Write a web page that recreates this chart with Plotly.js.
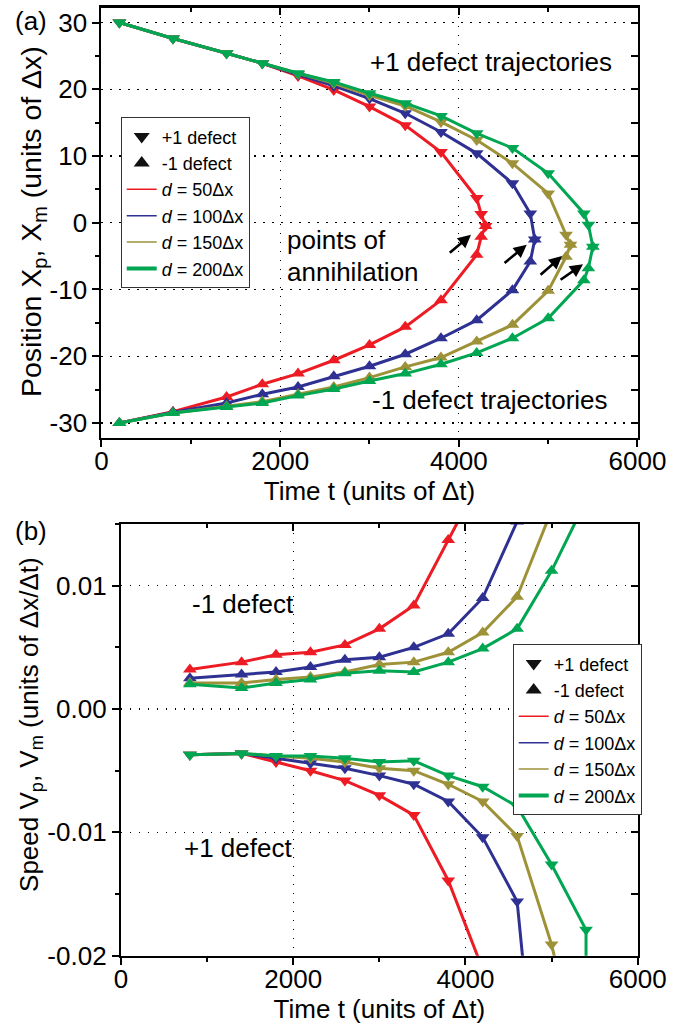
<!DOCTYPE html>
<html><head><meta charset="utf-8">
<script src="https://cdn.plot.ly/plotly-3.0.1.min.js"></script>
<style>html,body{margin:0;padding:0;background:#fff}#chart{width:695px;height:1036px}</style>
</head><body><div id="chart"></div>
<script>
// ---------- Data: panel (a) positions ----------
const seriesLabels = ['<i>d</i> = 50Δx', '<i>d</i> = 100Δx', '<i>d</i> = 150Δx', '<i>d</i> = 200Δx'];
const defectLabels = ['+1 defect', '-1 defect'];

const posTime50  = [200, 800, 1400, 1800, 2200, 2600, 3000, 3400, 3800, 4200, 4250, 4300];
const posPlus50  = [30, 27.6, 25.4, 23.9, 22.0, 19.9, 17.4, 14.6, 10.6, 3.7, 1.3, -0.5];
const posMinus50 = [-30, -28.3, -26.1, -24.2, -22.6, -20.6, -18.3, -15.6, -11.6, -4.8, -2.1, -0.5];

const posTime100  = [200, 800, 1400, 1800, 2200, 2600, 3000, 3400, 3800, 4200, 4600, 4800, 4850];
const posPlus100  = [30, 27.6, 25.4, 23.9, 22.2, 20.5, 18.6, 16.4, 13.6, 10.4, 5.9, 1.4, -2.5];
const posMinus100 = [-30, -28.4, -27.0, -25.7, -24.6, -23.0, -21.5, -19.7, -17.3, -14.6, -10.1, -5.8, -2.5];

const posTime150  = [200, 800, 1400, 1800, 2200, 2600, 3000, 3400, 3800, 4200, 4600, 5000, 5200, 5250];
const posPlus150  = [30, 27.6, 25.4, 23.9, 22.3, 20.9, 19.1, 17.5, 15.1, 12.4, 8.9, 4.4, -1.8, -3.3];
const posMinus150 = [-30, -28.5, -27.5, -26.8, -25.7, -24.6, -23.2, -21.6, -20.2, -17.8, -15.3, -10.2, -5.1, -3.3];

const posTime200  = [200, 800, 1400, 1800, 2200, 2600, 3000, 3400, 3800, 4200, 4600, 5000, 5400, 5450, 5500];
const posPlus200  = [30, 27.6, 25.4, 23.9, 22.4, 21.1, 19.4, 17.9, 16.0, 13.4, 11.2, 7.4, 1.4, -0.3, -3.6];
const posMinus200 = [-30, -28.5, -27.6, -27.0, -25.9, -24.9, -23.7, -22.6, -21.2, -19.5, -17.3, -14.3, -8.6, -6.8, -3.6];

// ---------- Data: panel (b) speeds ----------
const spdTimeMinus50  = [800, 1400, 1800, 2200, 2600, 3000, 3400, 3800, 4200];
const spdMinus50      = [0.0032, 0.0038, 0.0044, 0.0046, 0.0052, 0.0065, 0.0084, 0.0137, 0.0190];
const spdTimeMinus100 = [800, 1400, 1800, 2200, 2600, 3000, 3400, 3800, 4200, 4600];
const spdMinus100     = [0.0025, 0.0028, 0.0030, 0.0034, 0.0040, 0.0042, 0.0050, 0.0061, 0.0090, 0.0152];
const spdTimeMinus150 = [800, 1400, 1800, 2200, 2600, 3000, 3400, 3800, 4200, 4600, 5000];
const spdMinus150     = [0.0021, 0.0021, 0.0024, 0.0026, 0.0030, 0.0036, 0.0038, 0.0046, 0.0062, 0.0091, 0.0161];
const spdTimeMinus200 = [800, 1400, 1800, 2200, 2600, 3000, 3400, 3800, 4200, 4600, 5000, 5400];
const spdMinus200     = [0.0020, 0.0017, 0.0021, 0.0024, 0.0029, 0.0031, 0.0030, 0.0038, 0.0049, 0.0065, 0.0112, 0.0169];

const spdTimePlus50  = [800, 1400, 1800, 2200, 2600, 3000, 3400, 3800, 4200];
const spdPlus50      = [-0.0037, -0.0036, -0.0043, -0.0050, -0.0058, -0.0070, -0.0086, -0.0139, -0.0211];
const spdTimePlus100 = [800, 1400, 1800, 2200, 2600, 3000, 3400, 3800, 4200, 4600, 4700];
const spdPlus100     = [-0.0037, -0.0036, -0.0040, -0.0044, -0.0048, -0.0054, -0.0061, -0.0075, -0.0104, -0.0156, -0.0227];
const spdTimePlus150 = [800, 1400, 1800, 2200, 2600, 3000, 3400, 3800, 4200, 4600, 5000, 5200];
const spdPlus150     = [-0.0037, -0.0036, -0.0038, -0.0040, -0.0043, -0.0048, -0.0050, -0.0061, -0.0075, -0.0103, -0.0191, -0.0250];
const spdTimePlus200 = [800, 1400, 1800, 2200, 2600, 3000, 3400, 3800, 4200, 4600, 5000, 5400, 5400];
const spdPlus200     = [-0.0037, -0.0036, -0.0038, -0.0038, -0.0040, -0.0043, -0.0042, -0.0054, -0.0063, -0.0079, -0.0126, -0.0179, -0.0300];

// ---------- Tick labels ----------
const xTickVals = [0, 2000, 4000, 6000];
const xTickText = ['0', '2000', '4000', '6000'];
const posTickVals = [-30, -20, -10, 0, 10, 20, 30];
const posTickText = ['-30', '-20', '-10', '0', '10', '20', '30'];
const spdTickVals = [-0.02, -0.01, 0, 0.01];
const spdTickText = ['-0.02', '-0.01', '0.00', '0.01'];

// ---------- Styles ----------
const colors = ['#ED1C24', '#2E3192', '#9E9239', '#00A651'];
const legendWidths = [1.5, 1.5, 1.5, 4];
const FONT = 'Arial, "Liberation Sans", sans-serif';

const posSets = [
  [posTime50, posPlus50, posMinus50],
  [posTime100, posPlus100, posMinus100],
  [posTime150, posPlus150, posMinus150],
  [posTime200, posPlus200, posMinus200]
];
const spdSets = [
  [spdTimePlus50, spdPlus50, spdTimeMinus50, spdMinus50],
  [spdTimePlus100, spdPlus100, spdTimeMinus100, spdMinus100],
  [spdTimePlus150, spdPlus150, spdTimeMinus150, spdMinus150],
  [spdTimePlus200, spdPlus200, spdTimeMinus200, spdMinus200]
];

const traces = [];
function dataTrace(x, y, color, symbol, xa, ya, name) {
  return {x: x, y: y, type: 'scatter', mode: 'lines+markers', xaxis: xa, yaxis: ya, name: name,
    showlegend: false, cliponaxis: true,
    line: {color: color, width: 3},
    marker: {symbol: symbol, size: 12, color: color}};
}
posSets.forEach((s, i) => {
  traces.push(dataTrace(s[0], s[2], colors[i], 'triangle-up', 'x', 'y', seriesLabels[i]));
  traces.push(dataTrace(s[0], s[1], colors[i], 'triangle-down', 'x', 'y', seriesLabels[i]));
});
spdSets.forEach((s, i) => {
  traces.push(dataTrace(s[2], s[3], colors[i], 'triangle-up', 'x2', 'y2', seriesLabels[i]));
  traces.push(dataTrace(s[0], s[1], colors[i], 'triangle-down', 'x2', 'y2', seriesLabels[i]));
});

// legend-only entries (two legends)
[['legend', 'x', 'y'], ['legend2', 'x2', 'y2']].forEach(([lg, xa, ya]) => {
  traces.push({x: [null], y: [null], type: 'scatter', mode: 'markers', name: defectLabels[0], legend: lg,
    xaxis: xa, yaxis: ya, marker: {symbol: 'triangle-down', size: 14, color: '#111'}});
  traces.push({x: [null], y: [null], type: 'scatter', mode: 'markers', name: defectLabels[1], legend: lg,
    xaxis: xa, yaxis: ya, marker: {symbol: 'triangle-up', size: 14, color: '#111'}});
  seriesLabels.forEach((n, i) => {
    traces.push({x: [null], y: [null], type: 'scatter', mode: 'lines', name: n, legend: lg,
      xaxis: xa, yaxis: ya, line: {color: colors[i], width: legendWidths[i]}});
  });
});

const tickFont = {family: FONT, size: 26, color: '#000'};
const titleFont = {family: FONT, size: 26, color: '#000'};
const grid = {showgrid: true, gridcolor: '#000', gridwidth: 1.3, griddash: '1.5px,7.5px', zeroline: false};
const baseAxis = Object.assign({showline: true, linecolor: '#000', linewidth: 2.2, mirror: true,
  ticks: 'outside', ticklen: 7, tickwidth: 2, tickcolor: '#000', tickfont: tickFont,
  automargin: false, fixedrange: true}, grid);
const innerAxis = {ticks: 'inside', ticklen: 7, tickwidth: 2, tickcolor: '#000', showticklabels: false,
  showgrid: false, showline: false, zeroline: false, fixedrange: true};

const legendBase = {bgcolor: '#fff', bordercolor: '#333', borderwidth: 1, xanchor: 'left', yanchor: 'top',
  font: {family: FONT, size: 18, color: '#000'}, itemwidth: 30, tracegroupgap: 0};

const annFont = {family: FONT, size: 26, color: '#000'};
function txt(text, x, y, xref, yref, xanchor) {
  return {text: text, x: x, y: y, xref: xref, yref: yref, xanchor: xanchor || 'left', yanchor: 'middle',
    showarrow: false, font: annFont};
}
function ytitle(text, x, y, size) {
  return {text: text, x: x, y: y, xref: 'paper', yref: 'paper', xanchor: 'center', yanchor: 'middle',
    textangle: -90, showarrow: false, font: {family: FONT, size: size, color: '#000'}};
}
function arrow(x, y, ax, ay) {
  return {x: x, y: y, ax: ax, ay: ay, xref: 'x', yref: 'y', axref: 'x', ayref: 'y', text: '',
    showarrow: true, arrowhead: 2, arrowsize: 1, arrowwidth: 2.6, arrowcolor: '#000'};
}

const layout = {
  width: 695, height: 1036,
  margin: {l: 0, r: 0, t: 0, b: 0},
  paper_bgcolor: '#fff', plot_bgcolor: '#fff',
  font: {family: FONT, color: '#000'},
  xaxis: Object.assign({}, baseAxis, {domain: [0.14604, 0.91727], anchor: 'y', range: [0, 6000],
    tickmode: 'array', tickvals: xTickVals, ticktext: xTickText, ticklabelstandoff: -8,
    minor: {tickmode: 'linear', tick0: 0, dtick: 1000, ticks: 'outside', ticklen: 4, tickwidth: 2, tickcolor: '#000', showgrid: false},
    title: {text: 'Time t (units of Δt)', font: titleFont, standoff: 2}}),
  yaxis: Object.assign({}, baseAxis, {domain: [0.57722, 0.99276], anchor: 'x', range: [-32.25, 32.25],
    tickmode: 'array', tickvals: posTickVals, ticktext: posTickText,
    minor: {tickmode: 'linear', tick0: 0, dtick: 5, ticks: 'outside', ticklen: 4, tickwidth: 2, tickcolor: '#000', showgrid: false}}),
  xaxis2: Object.assign({}, baseAxis, {domain: [0.17410, 0.91755], anchor: 'y2', range: [0, 6000],
    tickmode: 'array', tickvals: xTickVals, ticktext: xTickText, ticklabelstandoff: -8,
    minor: {tickmode: 'linear', tick0: 0, dtick: 1000, ticks: 'outside', ticklen: 4, tickwidth: 2, tickcolor: '#000', showgrid: false},
    title: {text: 'Time t (units of Δt)', font: titleFont, standoff: 2}}),
  yaxis2: Object.assign({}, baseAxis, {domain: [0.07751, 0.49421], anchor: 'x2', range: [-0.02, 0.015],
    tickmode: 'array', tickvals: spdTickVals, ticktext: spdTickText,
    minor: {tickmode: 'linear', tick0: 0, dtick: 0.005, ticks: 'outside', ticklen: 4, tickwidth: 2, tickcolor: '#000', showgrid: false}}),
  xaxis3: Object.assign({}, innerAxis, {overlaying: 'x', side: 'top', anchor: 'y', range: [0, 6000], tickmode: 'linear', tick0: 0, dtick: 2000,
    minor: {tickmode: 'linear', tick0: 0, dtick: 1000, ticks: 'inside', ticklen: 4, tickwidth: 2, tickcolor: '#000', showgrid: false}}),
  yaxis3: Object.assign({}, innerAxis, {overlaying: 'y', side: 'right', anchor: 'x', range: [-32.25, 32.25], tickmode: 'linear', tick0: 0, dtick: 5}),
  xaxis4: Object.assign({}, innerAxis, {overlaying: 'x2', side: 'top', anchor: 'y2', range: [0, 6000], tickmode: 'linear', tick0: 0, dtick: 2000,
    minor: {tickmode: 'linear', tick0: 0, dtick: 1000, ticks: 'inside', ticklen: 4, tickwidth: 2, tickcolor: '#000', showgrid: false}}),
  yaxis4: Object.assign({}, innerAxis, {overlaying: 'y2', side: 'right', anchor: 'x2', range: [-0.02, 0.015], tickmode: 'linear', tick0: 0, dtick: 0.005}),
  legend: Object.assign({}, legendBase, {x: 0.1737, y: 0.8868}),
  legend2: Object.assign({}, legendBase, {x: 0.7377, y: 0.3781}),
  showlegend: true,
  annotations: [
    ytitle('Position X<sub>p</sub>, X<sub>m</sub> (units of Δx)', 0.0475, 0.7857, 28.5),
    ytitle('Speed V<sub>p</sub>, V<sub>m</sub> (units of Δx/Δt)', 0.0446, 0.3012, 26),
    txt('(a)', 0.0187, 0.9797, 'paper', 'paper'),
    txt('(b)', 0.0187, 0.4875, 'paper', 'paper'),
    txt('+1 defect trajectories', 2983, 24.1, 'x', 'y'),
    txt('-1 defect trajectories', 3010, -26.6, 'x', 'y'),
    txt('points of', 2053, -2.6, 'x', 'y'),
    txt('annihilation', 2053, -7.4, 'x', 'y'),
    arrow(4136, -1.8, 3882, -4.7),
    arrow(4760, -3.3, 4495, -6.2),
    arrow(5155, -5.0, 4898, -8.0),
    arrow(5390, -6.2, 5122, -8.7),
    txt('-1 defect', 801, 0.00854, 'x2', 'y2'),
    txt('+1 defect', 708, -0.01125, 'x2', 'y2')
  ]
};

// invisible anchors so the overlay tick axes are drawn
traces.push({x: [null], y: [null], type: 'scatter', mode: 'markers', xaxis: 'x3', yaxis: 'y', showlegend: false, hoverinfo: 'skip'});
traces.push({x: [null], y: [null], type: 'scatter', mode: 'markers', xaxis: 'x', yaxis: 'y3', showlegend: false, hoverinfo: 'skip'});
traces.push({x: [null], y: [null], type: 'scatter', mode: 'markers', xaxis: 'x4', yaxis: 'y2', showlegend: false, hoverinfo: 'skip'});
traces.push({x: [null], y: [null], type: 'scatter', mode: 'markers', xaxis: 'x2', yaxis: 'y4', showlegend: false, hoverinfo: 'skip'});

Plotly.newPlot('chart', traces, layout, {staticPlot: true, displayModeBar: false});
</script>
</body></html>
